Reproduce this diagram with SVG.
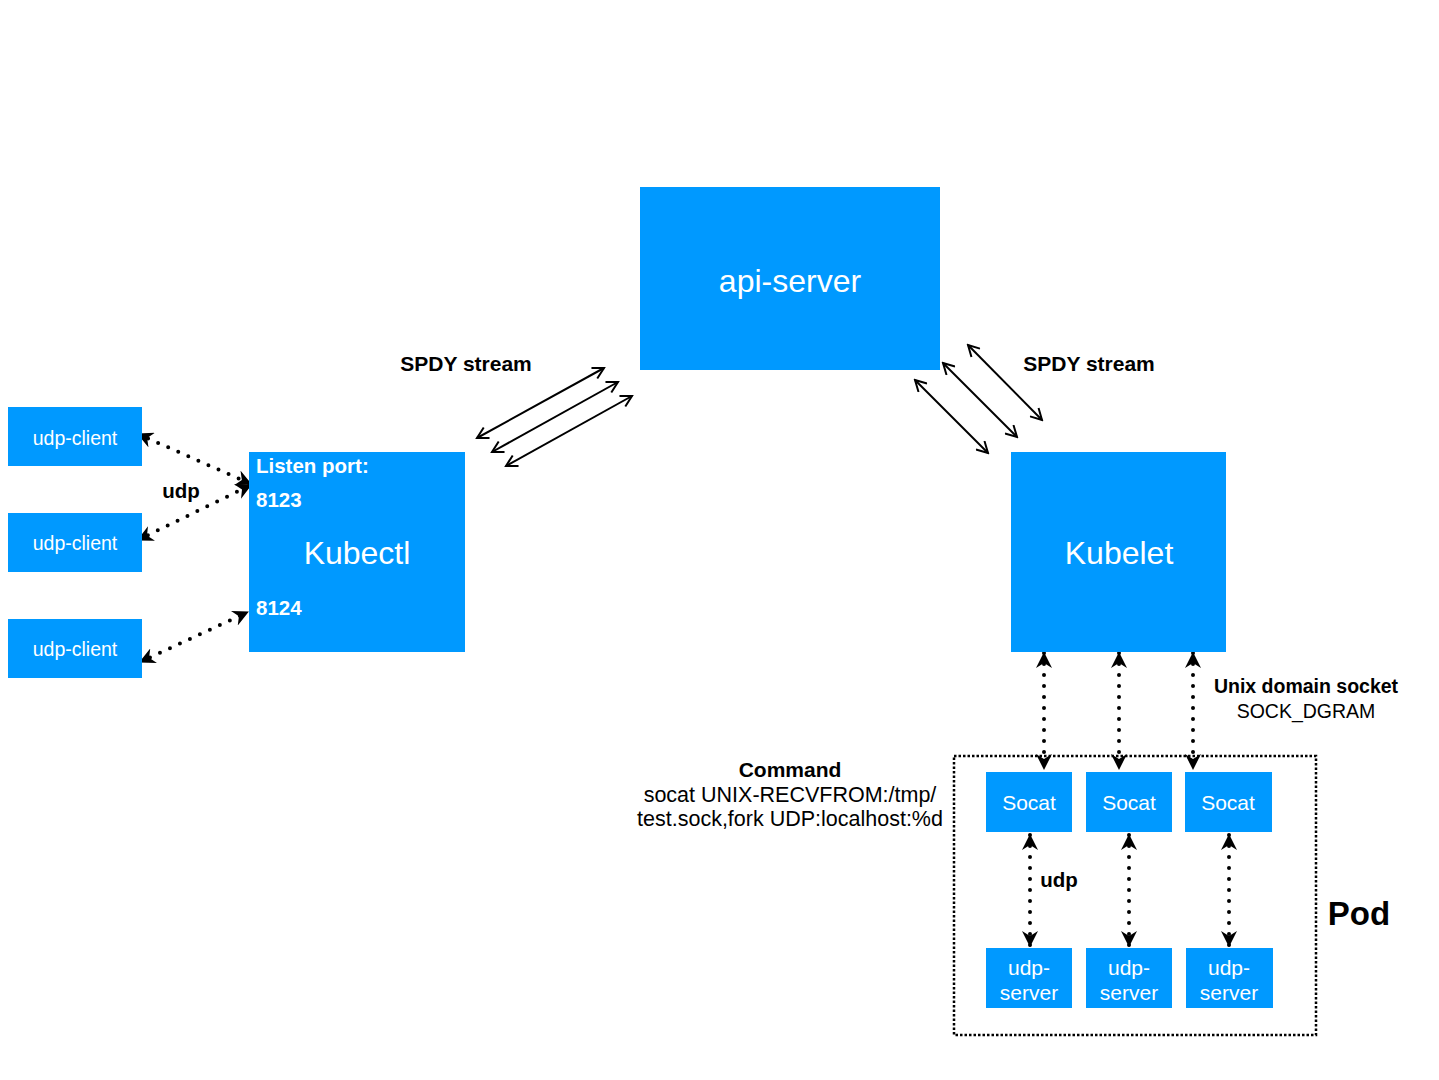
<svg xmlns="http://www.w3.org/2000/svg" width="1439" height="1080" viewBox="0 0 1439 1080">
<style>
.box{fill:#0099ff}
.wt{fill:#ffffff;font-family:"Liberation Sans",Arial,sans-serif}
.bt{fill:#000000;font-family:"Liberation Sans",Arial,sans-serif}
.b{font-weight:bold}
.dot{stroke:#000;stroke-width:4;stroke-linecap:round;stroke-dasharray:0 11;fill:none}
.sol{stroke:#000;stroke-width:2;fill:none}
</style>
<defs>
<marker id="fa" viewBox="0 0 16 16" markerWidth="16" markerHeight="16" refX="15" refY="8" orient="auto-start-reverse" markerUnits="userSpaceOnUse">
<path d="M0,0 L16,8 L0,16 L5,8 Z" fill="#000"/>
</marker>
<marker id="oa" viewBox="0 0 14 14" markerWidth="14" markerHeight="14" refX="12" refY="7" orient="auto-start-reverse" markerUnits="userSpaceOnUse">
<path d="M1,1 L12,7 L1,13" fill="none" stroke="#000" stroke-width="2"/>
</marker>
</defs>
<rect width="1439" height="1080" fill="#ffffff"/>

<g id="connectors">
<line class="dot" x1="138" y1="434" x2="251" y2="484" marker-start="url(#fa)" marker-end="url(#fa)"/>
<line class="dot" x1="138" y1="540" x2="251" y2="485" marker-start="url(#fa)" marker-end="url(#fa)"/>
<line class="dot" x1="140" y1="662" x2="248" y2="612" marker-start="url(#fa)" marker-end="url(#fa)"/>
<line class="sol" x1="477" y1="438" x2="604" y2="368" marker-start="url(#oa)" marker-end="url(#oa)"/>
<line class="sol" x1="492" y1="452" x2="618" y2="382" marker-start="url(#oa)" marker-end="url(#oa)"/>
<line class="sol" x1="506" y1="466" x2="632" y2="396" marker-start="url(#oa)" marker-end="url(#oa)"/>
<line class="sol" x1="968" y1="345" x2="1042" y2="420" marker-start="url(#oa)" marker-end="url(#oa)"/>
<line class="sol" x1="943" y1="363" x2="1017" y2="437" marker-start="url(#oa)" marker-end="url(#oa)"/>
<line class="sol" x1="915" y1="380" x2="988" y2="453" marker-start="url(#oa)" marker-end="url(#oa)"/>
<line class="dot" x1="1044" y1="653" x2="1044" y2="769" marker-start="url(#fa)" marker-end="url(#fa)"/>
<line class="dot" x1="1119" y1="653" x2="1119" y2="769" marker-start="url(#fa)" marker-end="url(#fa)"/>
<line class="dot" x1="1193" y1="653" x2="1193" y2="769" marker-start="url(#fa)" marker-end="url(#fa)"/>
<line class="dot" x1="1030" y1="835" x2="1030" y2="946" marker-start="url(#fa)" marker-end="url(#fa)"/>
<line class="dot" x1="1129" y1="835" x2="1129" y2="946" marker-start="url(#fa)" marker-end="url(#fa)"/>
<line class="dot" x1="1229" y1="835" x2="1229" y2="946" marker-start="url(#fa)" marker-end="url(#fa)"/>
</g>

<g id="pod">
<rect x="954" y="756" width="362" height="279" fill="none" stroke="#000" stroke-width="2.5" stroke-dasharray="2.5 2"/>
<text class="bt b" x="1359" y="925" font-size="33" text-anchor="middle">Pod</text>
</g>

<g id="api-server">
<rect class="box" x="640" y="187" width="300" height="183"/>
<text class="wt" x="790" y="292" font-size="32" text-anchor="middle">api-server</text>
</g>

<g id="kubectl">
<rect class="box" x="249" y="452" width="216" height="200"/>
<text class="wt b" x="256" y="473" font-size="20.5">Listen port:</text>
<text class="wt b" x="256" y="507" font-size="20.5">8123</text>
<text class="wt" x="357" y="564" font-size="32" text-anchor="middle">Kubectl</text>
<text class="wt b" x="256" y="615" font-size="20.5">8124</text>
</g>

<g id="kubelet">
<rect class="box" x="1011" y="452" width="215" height="200"/>
<text class="wt" x="1119" y="564" font-size="32" text-anchor="middle">Kubelet</text>
</g>

<g id="udp-client-1">
<rect class="box" x="8" y="407" width="134" height="59"/>
<text class="wt" x="75" y="445" font-size="19.5" text-anchor="middle">udp-client</text>
</g>
<g id="udp-client-2">
<rect class="box" x="8" y="513" width="134" height="59"/>
<text class="wt" x="75" y="550" font-size="19.5" text-anchor="middle">udp-client</text>
</g>
<g id="udp-client-3">
<rect class="box" x="8" y="619" width="134" height="59"/>
<text class="wt" x="75" y="656" font-size="19.5" text-anchor="middle">udp-client</text>
</g>

<g id="socat-1">
<rect class="box" x="986" y="772" width="86" height="60"/>
<text class="wt" x="1029" y="810" font-size="21" text-anchor="middle">Socat</text>
</g>
<g id="socat-2">
<rect class="box" x="1086" y="772" width="86" height="60"/>
<text class="wt" x="1129" y="810" font-size="21" text-anchor="middle">Socat</text>
</g>
<g id="socat-3">
<rect class="box" x="1185" y="772" width="87" height="60"/>
<text class="wt" x="1228" y="810" font-size="21" text-anchor="middle">Socat</text>
</g>

<g id="udp-server-1">
<rect class="box" x="986" y="948" width="86" height="60"/>
<text class="wt" x="1029" y="975" font-size="21" text-anchor="middle">udp-</text>
<text class="wt" x="1029" y="1000" font-size="21" text-anchor="middle">server</text>
</g>
<g id="udp-server-2">
<rect class="box" x="1086" y="948" width="86" height="60"/>
<text class="wt" x="1129" y="975" font-size="21" text-anchor="middle">udp-</text>
<text class="wt" x="1129" y="1000" font-size="21" text-anchor="middle">server</text>
</g>
<g id="udp-server-3">
<rect class="box" x="1186" y="948" width="87" height="60"/>
<text class="wt" x="1229" y="975" font-size="21" text-anchor="middle">udp-</text>
<text class="wt" x="1229" y="1000" font-size="21" text-anchor="middle">server</text>
</g>

<g id="labels">
<text class="bt b" x="181" y="498" font-size="20.5" text-anchor="middle">udp</text>
<text class="bt b" x="466" y="371" font-size="21" text-anchor="middle">SPDY stream</text>
<text class="bt b" x="1089" y="371" font-size="21" text-anchor="middle">SPDY stream</text>
<text class="bt b" x="1306" y="693" font-size="19.5" text-anchor="middle">Unix domain socket</text>
<text class="bt" x="1306" y="718" font-size="19.5" text-anchor="middle">SOCK_DGRAM</text>
<text class="bt b" x="790" y="777" font-size="21" text-anchor="middle">Command</text>
<text class="bt" x="790" y="802" font-size="21.5" text-anchor="middle">socat UNIX-RECVFROM:/tmp/</text>
<text class="bt" x="790" y="826" font-size="21.5" text-anchor="middle">test.sock,fork UDP:localhost:%d</text>
<text class="bt b" x="1059" y="887" font-size="20.5" text-anchor="middle">udp</text>
</g>
</svg>
